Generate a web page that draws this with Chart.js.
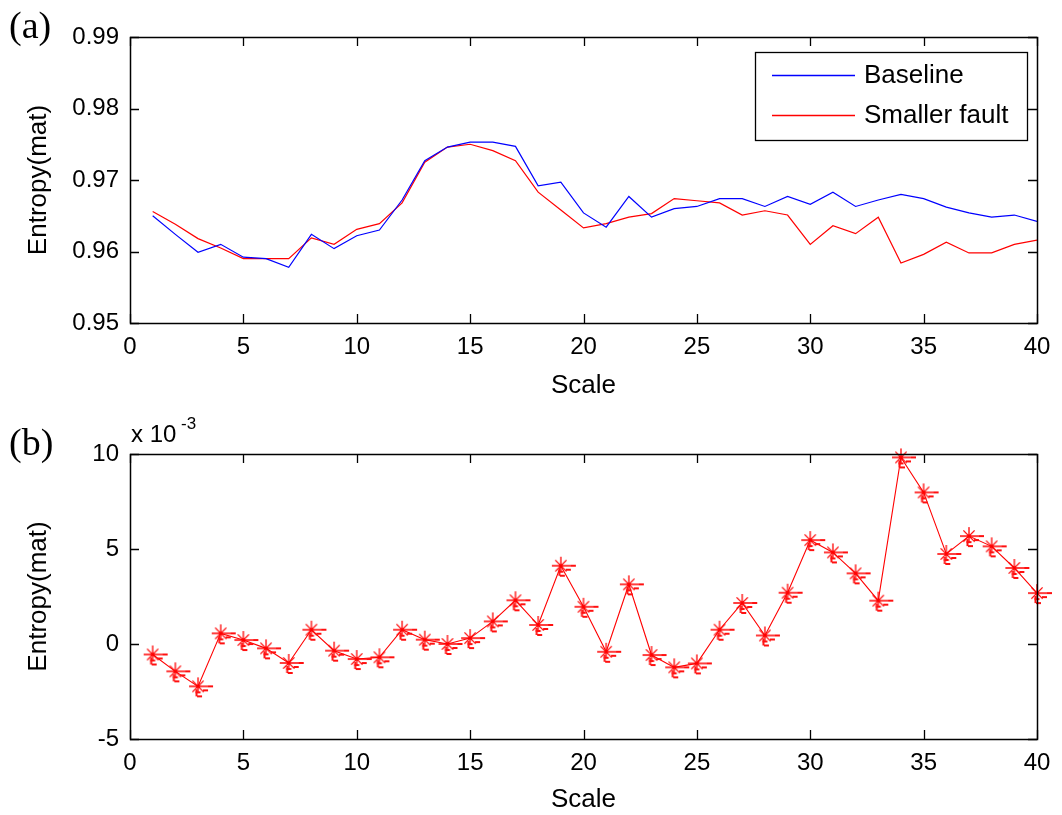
<!DOCTYPE html>
<html>
<head>
<meta charset="utf-8">
<script src="https://cdn.jsdelivr.net/npm/chart.js@4.4.1/dist/chart.umd.min.js"></script>
<style>
  html, body { margin: 0; padding: 0; background: #fff; }
  #wrap { position: relative; width: 1062px; height: 815px; }
  canvas { position: absolute; left: 0; }
  #c1 { top: 0; }
  #c2 { top: 410px; }
</style>
</head>
<body>
<div id="wrap">
  <canvas id="c1" width="1062" height="410"></canvas>
  <canvas id="c2" width="1062" height="405"></canvas>
</div>
<script>
// scale index 1..40
const scales = [1, 2, 3, 4, 5, 6, 7, 8, 9, 10, 11, 12, 13, 14, 15, 16, 17, 18, 19, 20,
                21, 22, 23, 24, 25, 26, 27, 28, 29, 30, 31, 32, 33, 34, 35, 36, 37, 38, 39, 40];

const baseline = [0.9650, 0.9624, 0.9599, 0.9610, 0.9592, 0.9590, 0.9578, 0.9624, 0.9604, 0.9622,
                  0.9630, 0.9672, 0.9727, 0.9746, 0.9753, 0.9753, 0.9747, 0.9692, 0.9697, 0.9654,
                  0.9634, 0.9677, 0.9648, 0.9660, 0.9663, 0.9674, 0.9674, 0.9663, 0.9677, 0.9666,
                  0.9683, 0.9663, 0.9672, 0.9680, 0.9674, 0.9662, 0.9654, 0.9648, 0.9651, 0.9642];

const smallerFault = [0.9656, 0.9638, 0.9618, 0.9605, 0.9590, 0.9590, 0.9590, 0.9619, 0.9610, 0.9631,
                      0.9639, 0.9668, 0.9725, 0.9746, 0.9750, 0.9741, 0.9727, 0.9683, 0.9658, 0.9633,
                      0.9639, 0.9648, 0.9653, 0.9674, 0.9671, 0.9668, 0.9651, 0.9657, 0.9651, 0.9610,
                      0.9636, 0.9625, 0.9648, 0.9584, 0.9596, 0.9613, 0.9598, 0.9598, 0.9610, 0.9616];

// entropy difference, in units of 1e-3
const diffE3 = [-0.55, -1.44, -2.23, 0.56, 0.21, -0.23, -1.00, 0.75, -0.35, -0.79,
                -0.70, 0.75, 0.23, 0.00, 0.31, 1.19, 2.30, 1.00, 4.12, 1.96,
                -0.41, 3.14, -0.58, -1.23, -1.02, 0.75, 2.16, 0.45, 2.70, 5.47,
                4.82, 3.72, 2.28, 9.82, 7.98, 4.74, 5.68, 5.14, 4.00, 2.68];

const topTicks = { min: 0.95, max: 0.99, step: 0.01 };
const bottomTicks = { min: -5, max: 10, step: 5 };

const SANS = '"Liberation Sans", Arial, sans-serif';
const SERIF = '"Liberation Serif", "Times New Roman", serif';

function pts(ys) {
  return scales.map((x, i) => ({ x: x, y: ys[i] }));
}

// asterisk marker, with the little smudges the export leaves around it
function starMarker() {
  const c = document.createElement('canvas');
  c.width = 40; c.height = 40;
  const g = c.getContext('2d');
  const cx = 20, cy = 20, r = 8, d = 5.6;
  g.strokeStyle = '#ff0000';
  g.lineWidth = 1.3;
  g.beginPath();
  g.moveTo(cx - r - 1, cy); g.lineTo(cx + r + 2, cy);
  g.moveTo(cx, cy - r - 1); g.lineTo(cx, cy + r - 3);
  g.moveTo(cx - d, cy - d); g.lineTo(cx + d, cy + d);
  g.moveTo(cx - d, cy + d); g.lineTo(cx + d, cy - d);
  g.stroke();
  g.fillStyle = '#ff1010';
  g.fillRect(cx + 10, cy - 1, 5, 2);
  g.fillRect(cx - 2.5, cy + 3, 2, 7);
  g.fillRect(cx - 2.5, cy + 5, 5, 2);
  g.fillRect(cx - 1, cy + 9, 5, 2);
  g.fillRect(cx + 5, cy + 3, 5, 2);
  return c;
}

// matlab-like box with inward ticks on all four sides
const boxPlugin = {
  id: 'box',
  afterDatasetsDraw(chart) {
    const g = chart.ctx;
    const a = chart.chartArea;
    const xs = chart.scales.x, ys = chart.scales.y;
    const len = 9;
    g.save();
    g.strokeStyle = '#000';
    g.lineWidth = 1.3;
    g.beginPath();
    xs.ticks.forEach(t => {
      const px = Math.round(xs.getPixelForValue(t.value)) + 0.5;
      g.moveTo(px, a.bottom); g.lineTo(px, a.bottom - len);
      g.moveTo(px, a.top); g.lineTo(px, a.top + len);
    });
    ys.ticks.forEach(t => {
      const py = Math.round(ys.getPixelForValue(t.value)) + 0.5;
      g.moveTo(a.left, py); g.lineTo(a.left + len, py);
      g.moveTo(a.right, py); g.lineTo(a.right - len, py);
    });
    g.stroke();
    g.lineWidth = 1.5;
    g.strokeRect(Math.round(a.left) + 0.5, Math.round(a.top) + 0.5,
                 Math.round(a.right - a.left), Math.round(a.bottom - a.top));
    g.restore();
  }
};

const topExtras = {
  id: 'topExtras',
  afterDraw(chart) {
    const g = chart.ctx;
    g.save();
    // panel tag
    g.fillStyle = '#000';
    g.font = '38px ' + SERIF;
    g.textBaseline = 'alphabetic';
    g.fillText('(a)', 9, 38);
    // legend
    const lx = 755, ly = 52, lw = 272, lh = 88;
    g.fillStyle = '#fff';
    g.fillRect(lx, ly, lw, lh);
    g.strokeStyle = '#000';
    g.lineWidth = 1.3;
    g.strokeRect(lx + 0.5, ly + 0.5, lw, lh);
    g.font = '26px ' + SANS;
    g.textBaseline = 'middle';
    chart.data.datasets.forEach((ds, i) => {
      const y = ly + 23 + i * 40;
      g.strokeStyle = chart.getDatasetMeta(i).dataset.options.borderColor;
      g.lineWidth = 1.3;
      g.beginPath();
      g.moveTo(lx + 17, y + 0.5); g.lineTo(lx + 100, y + 0.5);
      g.stroke();
      g.fillStyle = '#000';
      g.fillText(ds.label, lx + 109, y + 1);
    });
    g.restore();
  }
};

const bottomExtras = {
  id: 'bottomExtras',
  afterDraw(chart) {
    const g = chart.ctx;
    g.save();
    g.fillStyle = '#000';
    g.font = '38px ' + SERIF;
    g.textBaseline = 'alphabetic';
    g.fillText('(b)', 9, 45);
    // exponent note above the y axis
    g.font = '24px ' + SANS;
    g.fillText('x 10', 131, 32);
    g.font = '17px ' + SANS;
    g.fillText('-3', 181, 19);
    g.restore();
  }
};

function axisOpts(t, fmt, yWidth, xHeight) {
  return {
    x: {
      type: 'linear', min: 0, max: 40,
      grid: { display: false, drawTicks: false },
      border: { display: false },
      ticks: { stepSize: 5, color: '#000', font: { family: SANS, size: 24 }, padding: 10, maxRotation: 0 },
      title: { display: true, text: 'Scale', color: '#000', font: { family: SANS, size: 26 }, padding: 0 },
      afterFit: s => { s.height = xHeight; }
    },
    y: {
      min: t.min, max: t.max,
      grid: { display: false, drawTicks: false },
      border: { display: false },
      ticks: { stepSize: t.step, color: '#000', font: { family: SANS, size: 24 }, padding: 11, callback: fmt },
      title: { display: true, text: 'Entropy(mat)', color: '#000', font: { family: SANS, size: 26 }, padding: 0 },
      afterFit: s => { s.width = yWidth; }
    }
  };
}

const common = {
  responsive: false,
  animation: false,
  plugins: { legend: { display: false }, tooltip: { enabled: false } }
};

new Chart(document.getElementById('c1'), {
  type: 'line',
  data: {
    datasets: [
      { label: 'Baseline', data: pts(baseline), borderColor: '#0000ff', borderWidth: 1.2, pointRadius: 0, tension: 0, fill: false },
      { label: 'Smaller fault', data: pts(smallerFault), borderColor: '#ff0000', borderWidth: 1.2, pointRadius: 0, tension: 0, fill: false }
    ]
  },
  options: Object.assign({}, common, {
    layout: { padding: { left: 23, right: 25, top: 37, bottom: 9 } },
    scales: axisOpts(topTicks, v => v.toFixed(2), 107, 78)
  }),
  plugins: [boxPlugin, topExtras]
});

new Chart(document.getElementById('c2'), {
  type: 'line',
  data: {
    datasets: [
      { label: 'Difference', data: pts(diffE3), borderColor: '#ff0000', borderWidth: 1.1,
        pointStyle: starMarker(), pointRadius: 8, tension: 0, fill: false, clip: false }
    ]
  },
  options: Object.assign({}, common, {
    layout: { padding: { left: 23, right: 25, top: 44, bottom: 0 } },
    scales: axisOpts(bottomTicks, v => String(v), 107, 76)
  }),
  plugins: [boxPlugin, bottomExtras]
});
</script>
</body>
</html>
